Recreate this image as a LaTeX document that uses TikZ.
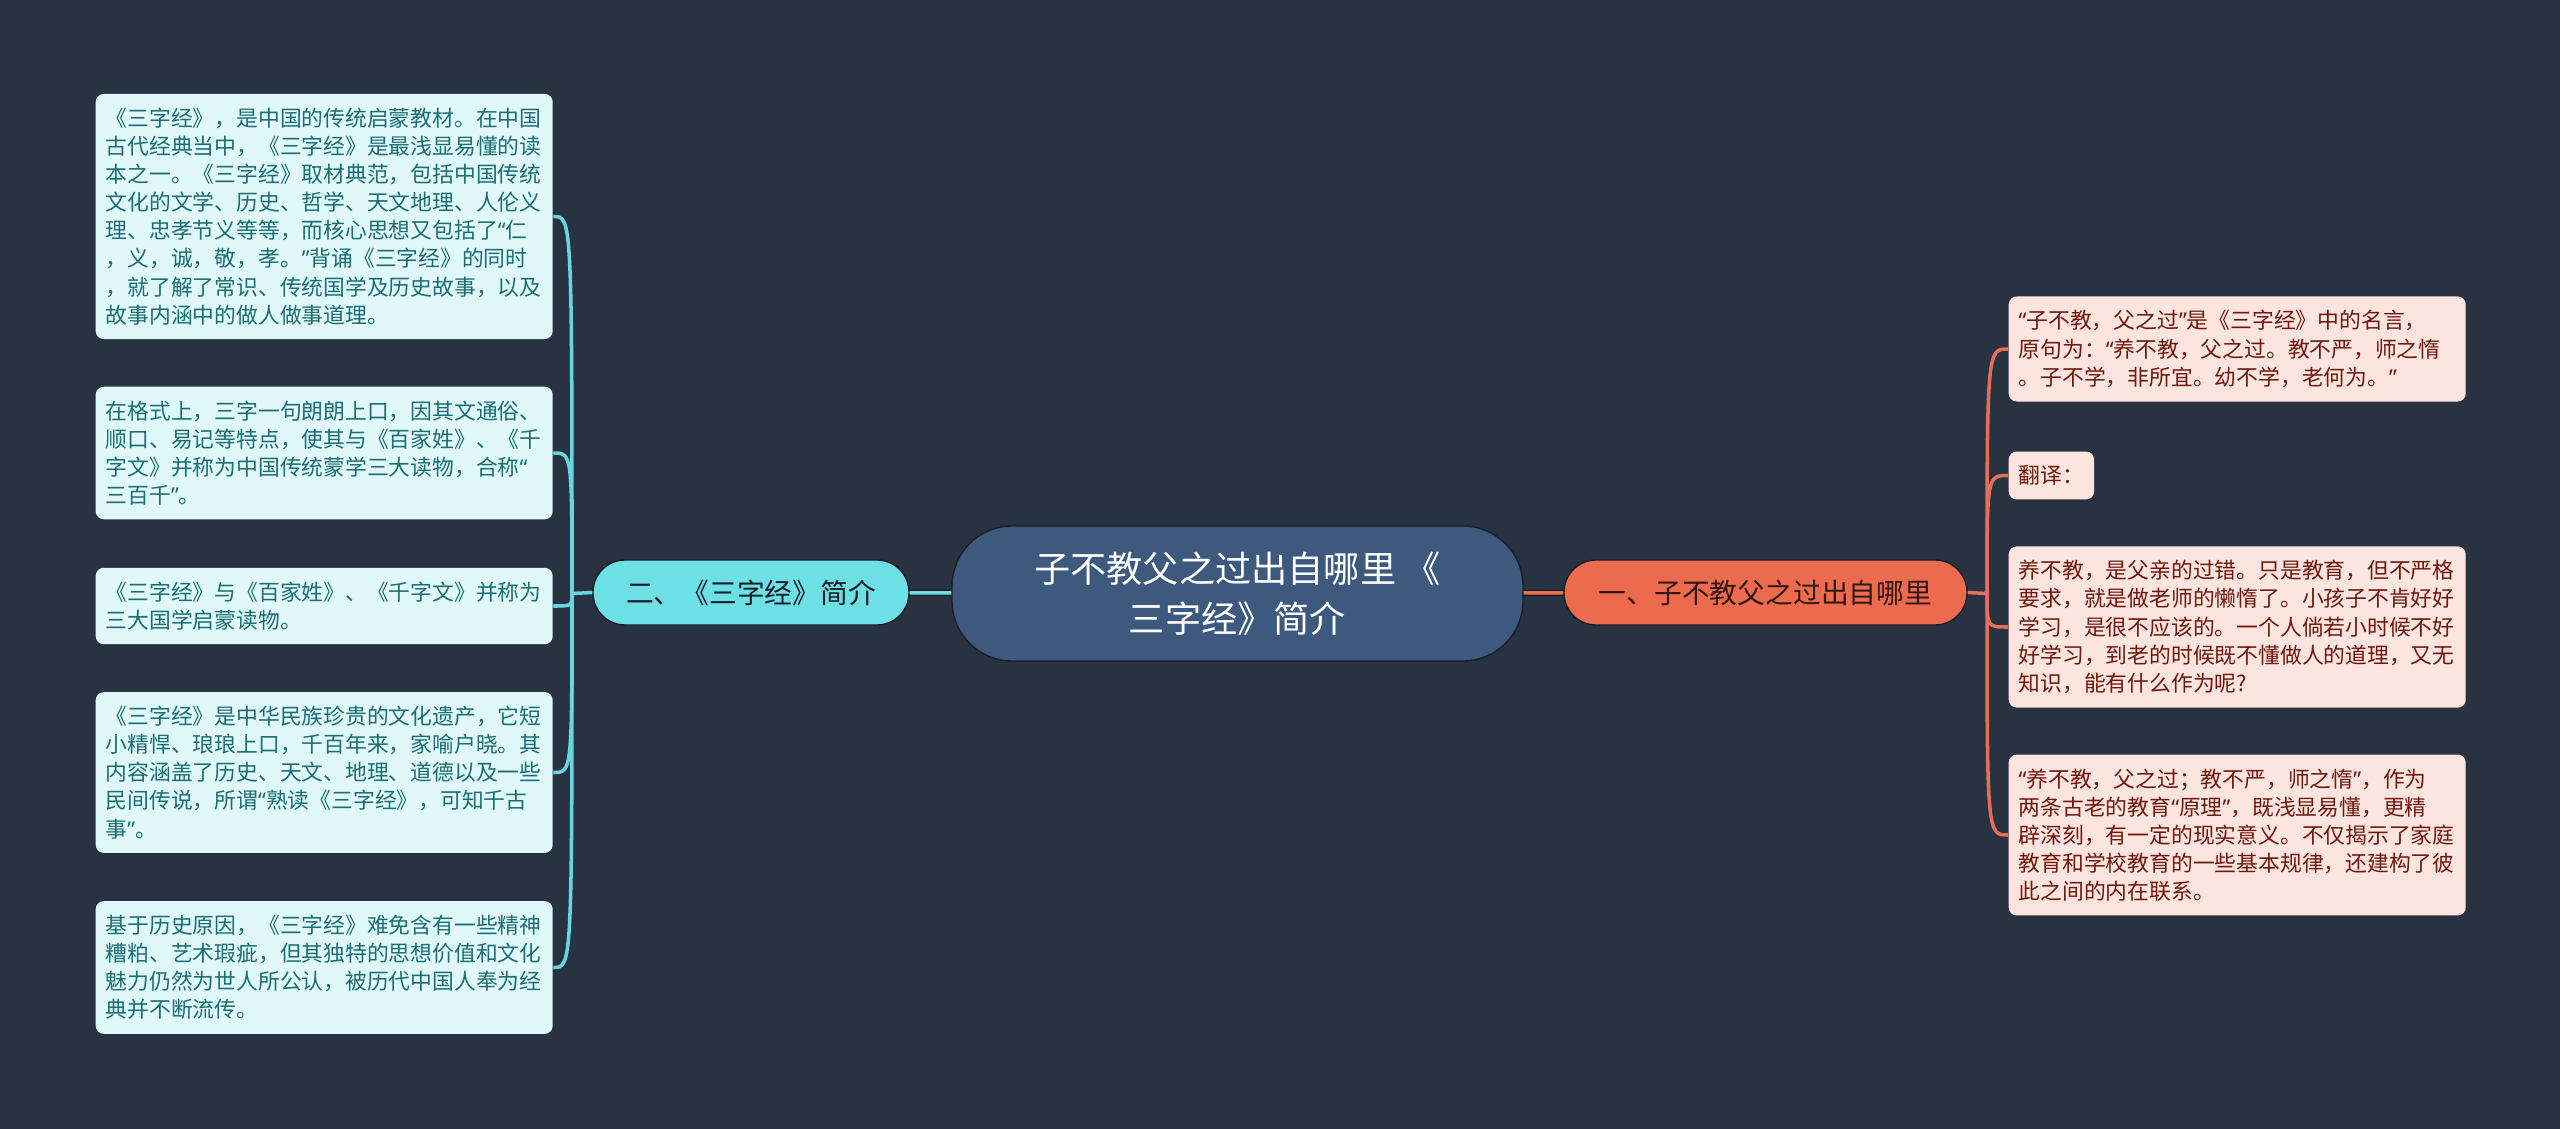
\documentclass[tikz,border=0pt]{standalone}
\usepackage{fontspec}
\setmainfont{Noto Sans CJK SC}
\newfontfamily\guill{Noto Sans}
\newcommand{\guiO}{{\guill “}}
\newcommand{\guiF}{{\guill ”}}
\usepackage{tikz}
\usetikzlibrary{positioning, calc}
\definecolor{fondNuit}{RGB}{41, 50, 64}
\definecolor{bordSombre}{RGB}{24, 30, 40}
\definecolor{bleuCentre}{RGB}{61, 89, 126}
\definecolor{cyanBranche}{RGB}{108, 224, 228}
\definecolor{cyanClair}{RGB}{225, 248, 250}
\definecolor{cyanTexte}{RGB}{26, 110, 116}
\definecolor{cyanLien}{RGB}{102, 214, 224}
\definecolor{orangeBranche}{RGB}{236, 107, 78}
\definecolor{roseClair}{RGB}{252, 229, 223}
\definecolor{rougeTexte}{RGB}{112, 24, 14}
\definecolor{orangeLien}{RGB}{226, 112, 88}

\begin{document}
\begin{tikzpicture}[
  centre/.style={rectangle, rounded corners=0.6cm, fill=bleuCentre,
    draw=bordSombre, minimum width=5.71cm, minimum height=1.35cm,
    align=center, text=white, font=\fontsize{10.3}{14.2}\selectfont},
  branche/.style={rectangle, rounded corners=0.32cm, draw=bordSombre,
    minimum height=0.65cm, font=\fontsize{7.9}{9}\selectfont},
  feuilleG/.style={rectangle, rounded corners=0.08cm, fill=cyanClair,
    text=cyanTexte, text width=4.37cm, inner xsep=0.1cm,
    inner ysep=0.14cm, align=left, anchor=west,
    font=\fontsize{6.2}{8}\selectfont},
  feuilleD/.style={feuilleG, fill=roseClair, text=rougeTexte},
  lienG/.style={draw=cyanLien, line width=1pt},
  lienD/.style={draw=orangeLien, line width=1pt},
  tronc/.style={draw=bordSombre, line width=0.4pt, double=#1,
    double distance=1pt},
]
\fill[fondNuit] (0, 0) rectangle (25.6, -11.29);
\useasboundingbox (0, 0) rectangle (25.6, -11.29);

\node[centre] (cent) at (12.375, -5.935)
  {子不教父之过出自哪里 《\\三字经》简介};
\node[branche, fill=cyanBranche, text=bordSombre, minimum width=3.16cm]
  (intro) at (7.51, -5.925) {二、《三字经》简介};
\node[branche, fill=orangeBranche, text={rgb,255:red,50;green,22;blue,18},
  minimum width=4.03cm] (origine) at (17.655, -5.925)
  {一、子不教父之过出自哪里};

\node[feuilleG] (g1) at (0.95, -2.165)
  {《三字经》，是中国的传统启蒙教材。在中国\\
   古代经典当中，《三字经》是最浅显易懂的读\\
   本之一。《三字经》取材典范，包括中国传统\\
   文化的文学、历史、哲学、天文地理、人伦义\\
   理、忠孝节义等等，而核心思想又包括了\guiO 仁\\
   ，义，诚，敬，孝。\guiF 背诵《三字经》的同时\\
   ，就了解了常识、传统国学及历史故事，以及\\
   故事内涵中的做人做事道理。};
\node[feuilleG] (g2) at (0.95, -4.53)
  {在格式上，三字一句朗朗上口，因其文通俗、\\
   顺口、易记等特点，使其与《百家姓》、《千\\
   字文》并称为中国传统蒙学三大读物，合称\guiO\\
   三百千\guiF 。};
\node[feuilleG] (g3) at (0.95, -6.06)
  {《三字经》与《百家姓》、《千字文》并称为\\
   三大国学启蒙读物。};
\node[feuilleG] (g4) at (0.95, -7.725)
  {《三字经》是中华民族珍贵的文化遗产，它短\\
   小精悍、琅琅上口，千百年来，家喻户晓。其\\
   内容涵盖了历史、天文、地理、道德以及一些\\
   民间传说，所谓\guiO 熟读《三字经》，可知千古\\
   事\guiF 。};
\node[feuilleG] (g5) at (0.95, -9.675)
  {基于历史原因，《三字经》难免含有一些精神\\
   糟粕、艺术瑕疵，但其独特的思想价值和文化\\
   魅力仍然为世人所公认，被历代中国人奉为经\\
   典并不断流传。};

\node[feuilleD] (d1) at (20.08, -3.49)
  {\guiO 子不教，父之过\guiF 是《三字经》中的名言，\\
   原句为：\guiO 养不教，父之过。教不严，师之惰\\
   。子不学，非所宜。幼不学，老何为。\guiF};
\node[feuilleD, text width=, align=left] (d2) at (20.08, -4.755)
  {翻译：};
\node[feuilleD] (d3) at (20.08, -6.27)
  {养不教，是父亲的过错。只是教育，但不严格\\
   要求，就是做老师的懒惰了。小孩子不肯好好\\
   学习，是很不应该的。一个人倘若小时候不好\\
   好学习，到老的时候既不懂做人的道理，又无\\
   知识，能有什么作为呢?};
\node[feuilleD] (d4) at (20.08, -8.35)
  {\guiO 养不教，父之过；教不严，师之惰\guiF ，作为\\
   两条古老的教育\guiO 原理\guiF ，既浅显易懂，更精\\
   辟深刻，有一定的现实意义。不仅揭示了家庭\\
   教育和学校教育的一些基本规律，还建构了彼\\
   此之间的内在联系。};

\draw[tronc=cyanBranche] (cent) -- (intro);
\draw[tronc=orangeBranche] (cent) -- (origine);

\coordinate (jg) at (5.72, -5.935);
\coordinate (jd) at (19.87, -5.935);
\draw[lienG] (intro.west) -- (jg);
\draw[lienD] (origine.east) -- (jd);
\foreach \f in {g1, g2, g3, g4, g5}
  \draw[lienG] (jg) .. controls (jg |- \f.east) and (jg |- \f.east)
    .. (\f.east);
\foreach \f in {d1, d2, d3, d4}
  \draw[lienD] (jd) .. controls (jd |- \f.west) and (jd |- \f.west)
    .. (\f.west);
\end{tikzpicture}
\end{document}
